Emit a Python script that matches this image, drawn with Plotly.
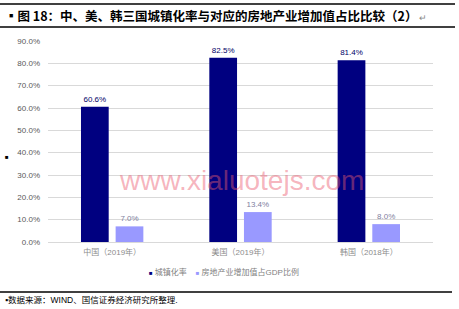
import plotly.graph_objects as go

categories = ["中国（2019年）", "美国（2019年）", "韩国（2018年）"]
urbanization = [60.6, 82.5, 81.4]
real_estate_gdp = [7.0, 13.4, 8.0]
series_names = ["城镇化率", "房地产业增加值占GDP比例"]
y_ticks = [0, 10, 20, 30, 40, 50, 60, 70, 80, 90]
colors = ["#000080", "#9999FF"]

W, H = 459, 309
L, R, T, B = 48, 26, 41, 67
pw, ph = W - L - R, H - T - B

def px(x):
    return (x - L) / pw

def py(y):
    return (H - B - y) / ph

fig = go.Figure()
fig.add_trace(go.Bar(
    x=categories, y=urbanization, name=series_names[0],
    marker=dict(color=colors[0], line=dict(width=0)),
    text=[f"{v:.1f}%" for v in urbanization], textposition="outside",
    textfont=dict(size=8, color="#000066", family="Liberation Sans"),
    cliponaxis=False,
))
fig.add_trace(go.Bar(
    x=categories, y=real_estate_gdp, name=series_names[1],
    marker=dict(color=colors[1], line=dict(width=0)),
    text=[f"{v:.1f}%" for v in real_estate_gdp], textposition="outside",
    textfont=dict(size=8, color="#8080A0", family="Liberation Sans"),
    cliponaxis=False,
))

fig.update_layout(
    width=W, height=H,
    margin=dict(l=L, r=R, t=T, b=B, pad=0),
    paper_bgcolor="white", plot_bgcolor="white",
    barmode="group", bargap=0.46, bargroupgap=0.2,
    font=dict(family="Liberation Sans, Noto Sans CJK SC", size=8, color="#595959"),
    showlegend=False,
    xaxis=dict(showgrid=False, showline=False, ticks="", tickfont=dict(size=8, color="#8C8C8C"),
               ticklabelstandoff=4),
    yaxis=dict(range=[0, 90], tickvals=y_ticks, ticktext=[f"{v:.1f}%" for v in y_ticks],
               showgrid=True, gridcolor="#D9D9D9", gridwidth=1, zeroline=True,
               zerolinecolor="#D9D9D9", zerolinewidth=1, showline=False, ticks="",
               tickfont=dict(size=8, color="#595959"), ticklabelstandoff=7),
)

shapes = []
for y in (4, 27):
    shapes.append(dict(type="line", xref="paper", yref="paper", x0=px(0), x1=px(455),
                       y0=py(y), y1=py(y), line=dict(color="black", width=1.5)))
shapes.append(dict(type="line", xref="paper", yref="paper", x0=px(0), x1=px(452),
                   y0=py(292), y1=py(292), line=dict(color="black", width=1.5)))
fig.update_layout(shapes=shapes)

legend_text = "&nbsp;&nbsp;&nbsp;&nbsp;".join(
    f"<span style='color:{c};font-size:6px'>■</span> {n}" for n, c in zip(series_names, colors))

annotations = [
    dict(text="<b>▪图 18：中、美、韩三国城镇化率与对应的房地产业增加值占比比较（2）</b><span style='font-size:9px;color:#888'> ↵</span>",
         xref="paper", yref="paper", x=px(3), y=py(15.5), xanchor="left", yanchor="middle",
         showarrow=False, font=dict(size=12.5, color="black", family="Noto Sans CJK SC")),
    dict(text=legend_text, xref="paper", yref="paper", x=px(147), y=py(272),
         xanchor="left", yanchor="middle", showarrow=False,
         font=dict(size=8, color="#7F7F7F", family="Liberation Sans, Noto Sans CJK SC")),
    dict(text="▪数据来源：WIND、国信证券经济研究所整理.",
         xref="paper", yref="paper", x=px(3), y=py(300), xanchor="left", yanchor="middle",
         showarrow=False, font=dict(size=8.5, color="black", family="Liberation Sans, Noto Sans CJK SC")),
    dict(text="■", xref="paper", yref="paper", x=px(7), y=py(157), xanchor="center", yanchor="middle",
         showarrow=False, font=dict(size=6, color="black")),
    dict(text="www.xialuotejs.com", xref="paper", yref="paper", x=px(242), y=py(180),
         xanchor="center", yanchor="middle", showarrow=False,
         font=dict(size=28, color="rgba(235,90,110,0.45)", family="Liberation Sans")),
]
fig.update_layout(annotations=annotations)

fig.write_html("out.html")
